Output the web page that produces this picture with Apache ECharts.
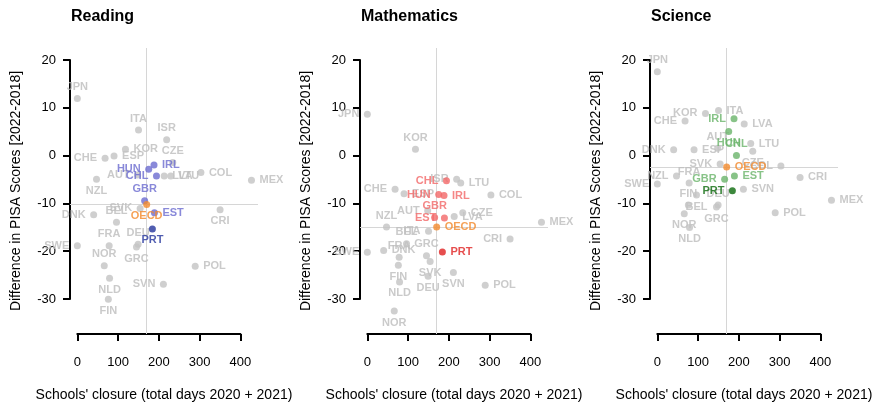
<!DOCTYPE html>
<html><head><meta charset="utf-8">
<script src="https://cdn.jsdelivr.net/npm/echarts@6/dist/echarts.min.js"></script>
<style>html,body{margin:0;padding:0;background:#fff}#chart{width:876px;height:405px}</style>
</head><body><div id="chart"></div>
<script>
// ---------------- data ----------------
const subjects = ['Reading', 'Mathematics', 'Science'];
const countries = ['JPN','KOR','ITA','ISR','CZE','CHE','ESP','AUT','NZL','HUN','CHL','IRL','LVA','LTU','COL','MEX','GBR','OECD','SVK','BEL','DNK','EST','CRI','FRA','DEU','PRT','SWE','NOR','GRC','POL','SVN','NLD','FIN'];
const closureDays = [0,118,150,219,234,68,90,148,47,175,194,188,213,229,303,427,165,170,154,96,40,189,350,78,149,184,0,66,145,289,211,79,76];
const reading = [11.9,1.3,5.3,3.3,-1.5,-0.6,-0.1,-4.1,-5.0,-2.9,-4.3,-2.0,-4.3,-4.3,-3.6,-5.2,-9.5,-10.3,-11.1,-14.0,-12.4,-12.0,-11.4,-18.9,-18.6,-15.4,-18.9,-23.1,-19.2,-23.2,-27.0,-25.7,-30.1];
const mathematics = [8.6,1.3,-15.9,-5.0,-12.0,-7.1,-8.0,-11.6,-15.0,-8.2,-5.3,-8.4,-12.8,-5.8,-8.3,-14.0,-13.0,-15.0,-22.2,-18.5,-19.9,-13.1,-17.5,-21.3,-25.3,-20.2,-20.3,-32.6,-21.0,-27.2,-24.5,-26.5,-23.0];
const science = [17.5,8.8,9.4,null,0.9,7.2,1.2,1.5,-4.3,5.0,0.0,7.7,6.6,2.5,-2.2,-9.4,-5.0,-2.4,-1.8,-8.3,1.2,-4.3,-4.6,-5.8,-10.4,-7.4,-6.0,-12.2,-10.8,-12.0,-7.1,-15.1,-10.4];
const highlighted = ['HUN','CHL','IRL','GBR','EST'];
const focusCountry = 'PRT';
const averageLabel = 'OECD';
const xTicks = [0, 100, 200, 300, 400];
const yTicks = [-30, -20, -10, 0, 10, 20];
const xTitle = "Schools' closure (total days 2020 + 2021)";
const yTitle = 'Difference in PISA Scores [2022-2018]';

// ---------------- layout / style (not data) ----------------
// label side relative to point: t=top, b=bottom, l=left, r=right (default r)
const labelSide = {
  Reading: {JPN:'t',ITA:'t',ISR:'t',CZE:'t',CHE:'l',AUT:'l',NZL:'b',HUN:'l',CHL:'l',GBR:'t',OECD:'b',SVK:'l',BEL:'t',DNK:'l',CRI:'b',FRA:'t',DEU:'t',PRT:'b',SWE:'l',NOR:'t',GRC:'b',SVN:'l',NLD:'b',FIN:'b'},
  Mathematics: {JPN:'l',KOR:'t',ITA:'l',ISR:'l',CHE:'l',AUT:'l',NZL:'t',HUN:'l',CHL:'l',GBR:'t',SVK:'b',BEL:'t',EST:'l',CRI:'l',FRA:'t',DEU:'b',SWE:'l',NOR:'b',GRC:'t',SVN:'b',NLD:'b',FIN:'b'},
  Science: {JPN:'t',KOR:'l',CHE:'l',IRL:'l',HUN:'b',CHL:'t',AUT:'t',DNK:'l',CZE:'b',SVK:'l',COL:'l',NZL:'l',FRA:'t',GBR:'l',SWE:'l',PRT:'l',FIN:'t',DEU:'t',BEL:'b',NOR:'b',NLD:'b',GRC:'b'}
};
const palette = {
  Reading: {hl:'#6B6BD0', focus:'#24349C'},
  Mathematics: {hl:'#F26868', focus:'#E02222'},
  Science: {hl:'#6AB46A', focus:'#0C6A0C'}
};
const avgColor = '#F28A2C', grayPoint = '#C3C3C3', grayText = '#BDBDBD', refLine = '#D6D6D6';
const FONT = '"Liberation Sans", Arial, Helvetica, sans-serif';
const panelStep = 290;
const X_RANGE = [-18, 443], Y_RANGE = [-37.4, 22.5];
const SYM = 7;

const valuesBySubject = {Reading: reading, Mathematics: mathematics, Science: science};

function labelOpt(side, color) {
  const o = {show:true, position:'inside', formatter:'{b}', color:color, fontFamily:FONT,
             fontWeight:'bold', fontSize:11, verticalAlign:'middle'};
  if (side === 't') { o.align='center'; o.offset=[0,-11.5]; }
  else if (side === 'b') { o.align='center'; o.offset=[0,11.5]; }
  else if (side === 'l') { o.align='right'; o.offset=[-8,0]; }
  else { o.align='left'; o.offset=[8,0]; }
  return o;
}

const grid = [], xAxis = [], yAxis = [], series = [], title = [];
subjects.forEach((subj, p) => {
  const ox = p * panelStep;
  const vals = valuesBySubject[subj];
  const sides = labelSide[subj];
  const pal = palette[subj];
  const gi = p * 3;
  grid.push({left: ox + 70, top: 48, width: 188, height: 286, outerBoundsMode:'none'});
  grid.push({left: ox + 70, top: 60, width: 188, height: 239, outerBoundsMode:'none'});
  grid.push({left: ox + 77.3, top: 48, width: 163.1, height: 286, outerBoundsMode:'none'});

  xAxis.push({gridIndex: gi, type:'value', min:X_RANGE[0], max:X_RANGE[1], axisLine:{show:false}, axisTick:{show:false},
    axisLabel:{show:false}, splitLine:{show:false}, name:xTitle, nameLocation:'middle', nameGap:54,
    nameTextStyle:{fontSize:14, color:'#000', fontFamily:FONT}});
  yAxis.push({gridIndex: gi, type:'value', min:Y_RANGE[0], max:Y_RANGE[1], axisLine:{show:false}, axisTick:{show:false},
    axisLabel:{show:false}, splitLine:{show:false}, name:yTitle, nameLocation:'middle', nameGap:47, nameRotate:90,
    nameTextStyle:{fontSize:14, color:'#000', fontFamily:FONT}});

  xAxis.push({gridIndex: gi+1, type:'value', show:false, min:0, max:1});
  yAxis.push({gridIndex: gi+1, type:'value', min:yTicks[0], max:yTicks[yTicks.length-1], interval:yTicks[1]-yTicks[0],
    axisLine:{show:true, lineStyle:{color:'#000', width:2}},
    axisTick:{show:true, inside:false, length:7, lineStyle:{color:'#000', width:2}},
    axisLabel:{fontSize:13, color:'#000', margin:14, fontFamily:FONT}, splitLine:{show:false}});

  xAxis.push({gridIndex: gi+2, type:'value', position:'bottom', min:xTicks[0], max:xTicks[xTicks.length-1], interval:xTicks[1]-xTicks[0],
    axisLine:{show:true, onZero:false, lineStyle:{color:'#000', width:2}},
    axisTick:{show:true, inside:false, length:7, lineStyle:{color:'#000', width:2}},
    axisLabel:{fontSize:13, color:'#000', margin:22, fontFamily:FONT}, splitLine:{show:false}});
  yAxis.push({gridIndex: gi+2, type:'value', show:false, min:0, max:1});

  title.push({text: subj, left: ox + 71, top: 9, padding: 0, textStyle:{fontSize:16, fontWeight:'bold', color:'#000', fontFamily:FONT}});

  const grayItems = [], hlItems = [], focusItems = [], avgItems = [];
  let avgX = null, avgY = null;
  countries.forEach((c, k) => {
    const v = vals[k];
    if (v === null || v === undefined) return;
    const side = sides[c] || 'r';
    const item = {name: c, value: [closureDays[k], v]};
    if (c === averageLabel) {
      avgX = closureDays[k]; avgY = v;
      avgItems.push(Object.assign(item, {label: labelOpt(side, avgColor)}));
    } else if (c === focusCountry) {
      focusItems.push(Object.assign(item, {label: labelOpt(side, pal.focus)}));
    } else if (highlighted.includes(c)) {
      hlItems.push(Object.assign(item, {label: labelOpt(side, pal.hl)}));
    } else {
      grayItems.push(Object.assign(item, {label: labelOpt(side, grayText)}));
    }
  });

  const common = {type:'scatter', xAxisIndex: gi, yAxisIndex: gi, symbol:'circle', symbolSize: SYM, animation:false, silent:true};
  series.push(Object.assign({}, common, {z:2, data: grayItems, itemStyle:{color:'rgba(0,0,0,0)'},
    markLine:{silent:true, z:1, animation:false, symbol:['none','none'], label:{show:false},
      lineStyle:{color:refLine, width:1, type:'solid'}, data:[{xAxis: avgX}, {yAxis: avgY}]}}));
  series.push(Object.assign({}, common, {z:3, data: grayItems.map(d => ({name:d.name, value:d.value})),
    itemStyle:{color:grayPoint}, label:{show:false}}));
  series.push(Object.assign({}, common, {z:4, data: hlItems, itemStyle:{color:pal.hl}}));
  series.push(Object.assign({}, common, {z:5, data: focusItems, itemStyle:{color:pal.focus}}));
  series.push(Object.assign({}, common, {z:6, data: avgItems, itemStyle:{color:avgColor}}));
});

const chart = echarts.init(document.getElementById('chart'), null, {renderer:'canvas'});
chart.setOption({animation:false, backgroundColor:'#fff', title, grid, xAxis, yAxis, series, tooltip:{show:false}});
</script>
</body></html>
